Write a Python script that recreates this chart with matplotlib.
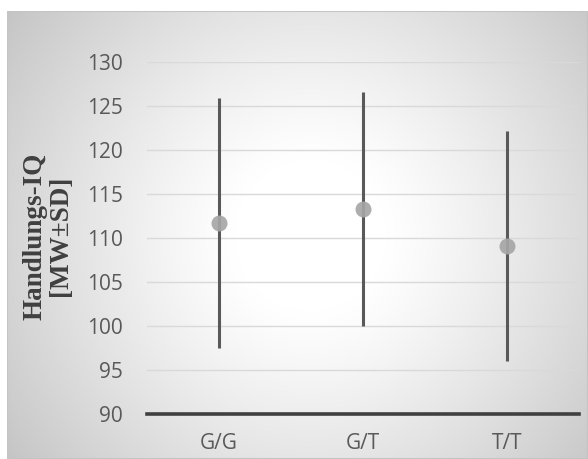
import numpy as np
import matplotlib.pyplot as plt
from matplotlib.patches import Rectangle

# データ
genotypes = ['G/G', 'G/T', 'T/T']
mean_iq = [111.7, 113.3, 109.1]
sd_upper = [14.2, 13.3, 13.1]
sd_lower = [14.2, 13.3, 13.1]
y_ticks = [90, 95, 100, 105, 110, 115, 120, 125, 130]

W, H = 588, 459
fig = plt.figure(figsize=(W / 100, H / 100), dpi=100)
fig.patch.set_facecolor('white')

# 背景 (放射グラデーション)
x0, y0 = 7, 11
bg = fig.add_axes([x0 / W, 0, 1 - x0 / W, 1 - y0 / H])
bw, bh = W - x0, H - y0
xx, yy = np.meshgrid(np.arange(bw), np.arange(bh))
cx, cy = 310 - x0, 235 - y0
d = np.hypot(xx - cx, yy - cy) / np.hypot(max(cx, bw - cx), max(cy, bh - cy))
t = np.clip((d - 0.2) / 0.8, 0, 1)
g = (255 - 58 * t ** 1.15) / 255
bg.imshow(np.dstack([g, g, g]), aspect='auto', extent=[0, 1, 0, 1])
bg.add_patch(Rectangle((0, 0), 1, 1, fill=False, ec='#c4c4c4', lw=1.5,
                       transform=bg.transAxes))
bg.set_axis_off()

# メインの軸
ax = fig.add_axes([146.6 / W, 1 - 414 / H, (579.3 - 146.6) / W, 352 / H])
ax.patch.set_alpha(0)
x = np.arange(len(genotypes))
ax.set_xlim(-0.5, len(genotypes) - 0.5)
ax.set_ylim(90, 130)

for v in y_ticks[1:]:
    ax.axhline(v, color='#d9d9d9', lw=1.0, zorder=1)
ax.axhline(90, color='#404040', lw=2.6, zorder=2, clip_on=False)

ax.errorbar(x, mean_iq, yerr=[sd_lower, sd_upper], fmt='none',
            ecolor='#595959', elinewidth=2.2, capsize=0, zorder=3)
ax.plot(x, mean_iq, 'o', color='#a6a6a6', markersize=11.5,
        markeredgewidth=0, alpha=0.92, zorder=4)

ax.set_xticks(x)
ax.set_xticklabels(genotypes)
ax.set_yticks(y_ticks)
for s in ax.spines.values():
    s.set_visible(False)
ax.tick_params(axis='both', length=0, colors='#595959', labelsize=15)
ax.tick_params(axis='y', pad=17)
ax.tick_params(axis='x', pad=14)
for lab in ax.get_xticklabels() + ax.get_yticklabels():
    lab.set_family('Open Sans')

fig.text(47.5 / W, 1 - 236 / H, 'Handlungs-IQ\n[MW±SD]', rotation=90,
         ha='center', va='center', family='Liberation Serif',
         fontweight='bold', fontsize=19.5, color='#404040', linespacing=1.05)

plt.savefig('out.png', dpi=100)
